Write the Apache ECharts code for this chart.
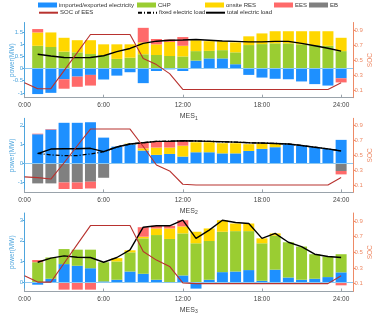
<!DOCTYPE html>
<html><head><meta charset="utf-8">
<script src="https://cdn.jsdelivr.net/npm/echarts@6/dist/echarts.min.js"></script>
<style>html,body{margin:0;padding:0;background:#fff}#c{width:374px;height:317px}</style>
</head><body><div id="c"></div>
<script>
const hours = [1,2,3,4,5,6,7,8,9,10,11,12,13,14,15,16,17,18,19,20,21,22,23,24];
const socHours = [0,1,2,3,4,5,6,7,8,9,10,11,12,13,14,15,16,17,18,19,20,21,22,23,24];
const xTicks = [0,6,12,18,24];
const socTicks = [0.1,0.3,0.5,0.7,0.9];
const panelNames = ['1','2','3'];
const powerTicks1 = [-1,-0.5,0,0.5,1,1.5];
const powerTicks2 = [-1,0,1,2];
const powerTicks3 = [0,1,2,3];

// MES1
const blue1 = [-1.05,-1.00,-0.44,-0.33,-0.26,-0.45,-0.29,-0.15,-0.60,-0.10,-0.03,-0.10,0.33,0.42,0.42,0.18,-0.26,-0.37,-0.42,-0.44,-0.53,-0.64,-0.70,-0.40];
const green1 = [0.94,0.89,0.70,0.67,0.60,0.56,0.40,0.45,0.59,0.56,0.52,0.50,0.39,0.31,0.34,0.49,0.97,1.01,1.04,1.04,1.00,0.97,0.94,0.72];
const gold1 = [0.55,0.60,0.57,0.50,0.57,0.44,0.60,0.55,0.49,0.44,0.58,0.44,0.45,0.40,0.37,0.41,0.36,0.44,0.50,0.50,0.54,0.57,0.60,0.55];
const ees1 = [0.14,0,-0.39,-0.42,-0.44,0,0,0,0.60,0.22,0.10,0.36,0,0,0,0,0,0,0,0,0,0,0,-0.17];
const eb1 = [0,0,0,0,0,0,0,0,0,0,0,0,0,0,0,0,0,0,0,0,0,0,0,0];
const total1 = [0.59,0.52,0.46,0.45,0.46,0.53,0.70,0.83,1.04,1.13,1.17,1.18,1.20,1.17,1.14,1.12,1.10,1.10,1.12,1.12,1.04,0.94,0.84,0.72];
const soc1 = [0.20,0.12,0.12,0.36,0.60,0.84,0.84,0.84,0.84,0.52,0.44,0.32,0.11,0.11,0.11,0.11,0.11,0.11,0.11,0.11,0.11,0.11,0.11,0.11,0.20];

// MES2
const blue2 = [1.55,1.80,2.16,2.16,2.19,1.37,0.89,1.02,0.68,0.45,0.50,0.36,0.59,0.59,0.53,0.53,0.66,0.77,0.86,1.02,0.94,0.86,0.77,1.25];
const green2 = [0,0,0,0,0,0,0,0,0,0,0,0,0,0,0,0,0,0,0,0,0,0,0,0];
const gold2 = [0,0,0,0,0,0,0,0.03,0.12,0.39,0.34,0.58,0.53,0.53,0.54,0.54,0.36,0.30,0.21,0,0,0,0,0];
const ees2 = [0.03,0.03,-0.35,-0.35,-0.36,0,0,0,0.29,0.32,0.32,0.25,0,0,0,0,0,0,0,0,0,0,0,-0.18];
const eb2 = [-1.07,-1.07,-1.02,-1.02,-0.98,-0.77,0,0,0,0,0,0,0,0,0,0,0,0,0,0,0,0,0,-0.41];
const total2 = [0.52,0.76,0.78,0.78,0.80,0.62,0.87,1.03,1.10,1.17,1.18,1.20,1.19,1.17,1.15,1.13,1.10,1.08,1.06,1.03,0.95,0.86,0.77,0.66];
const fixed2 = [0.53,0.45,0.41,0.41,0.50,0.62,0.87,1.03,1.10,1.17,1.18,1.20,1.19,1.17,1.15,1.13,1.10,1.08,1.06,1.03,0.95,0.86,0.77,0.66];
const soc2 = [0.21,0.20,0.18,0.40,0.63,0.855,0.855,0.855,0.855,0.62,0.37,0.29,0.11,0.10,0.10,0.10,0.10,0.10,0.10,0.10,0.10,0.10,0.10,0.10,0.20];

// MES3
const blue3 = [-0.13,0.16,0.87,0.79,0.67,0.03,0.11,0.51,0.40,0.11,0.00,0.32,-0.32,0.11,0.48,0.51,0.58,0.06,0.60,0.22,0.11,0.16,0.24,0.47];
const green3 = [0.96,1.03,0.73,0.78,0.90,0.93,0.89,0.93,1.72,2.17,2.09,2.04,1.88,1.88,1.96,1.96,1.89,1.82,1.65,1.71,1.61,1.19,1.00,0.88];
const gold3 = [0,0,0,0,0,0,0.16,0.10,0.08,0.32,0.51,0.34,0.56,0.61,0.56,0.37,0.37,0.24,0.11,0,0,0,0,0];
const ees3 = [0.11,0,-0.37,-0.37,-0.37,0,0,0,0.46,0.13,0.13,0.30,0,0,0,0,0,0,0,0,0,0,0,-0.16];
const eb3 = [0,0,0,0,0,0,0,0,0,0,0,0,0,0,0,0,0,0,0,0,0,0,0,0];
const total3 = [0.96,1.16,1.27,1.20,1.19,0.96,1.19,1.56,2.66,2.73,2.73,3.00,2.12,2.52,3.00,2.89,2.84,2.12,2.36,1.93,1.72,1.35,1.24,1.19];
const soc3 = [0.20,0.12,0.12,0.36,0.60,0.84,0.84,0.84,0.84,0.51,0.40,0.32,0.11,0.10,0.10,0.10,0.10,0.10,0.10,0.10,0.10,0.10,0.10,0.10,0.20];

const C = {blue:'#1E90FF', green:'#9ACD32', gold:'#FFD700', ees:'#FF6A6A', eb:'#808080', soc:'#B8322F', left:'#4EA5DD', right:'#EE8A66', axis:'#9aa3ab', text:'#444'};
const FONT = 'Liberation Sans';

const panels = [
  {top:22.5, height:75.2, min:-1.2, max:1.9, ticks:powerTicks1, blue:blue1, green:green1, gold:gold1, ees:ees1, eb:eb1, total:total1, fixed:null, soc:soc1},
  {top:118.3, height:74.1, min:-1.55, max:2.4, ticks:powerTicks2, blue:blue2, green:green2, gold:gold2, ees:ees2, eb:eb2, total:total2, fixed:fixed2, soc:soc2},
  {top:213, height:78.5, min:-0.46, max:3.35, ticks:powerTicks3, blue:blue3, green:green3, gold:gold3, ees:ees3, eb:eb3, total:total3, fixed:null, soc:soc3}
];

const grid = [], xAxis = [], yAxis = [], series = [];
const pair = (xs, vs) => xs.map((x, i) => [x, vs[i]]);
// bars: value first so that the stacked dimension is the y value
const barPair = (xs, vs) => xs.map((x, i) => [vs[i], x]);
panels.forEach((p, k) => {
  grid.push({left:24.5, width:328.5, top:p.top, height:p.height, containLabel:false, outerBoundsMode:'none'});
  xAxis.push({type:'value', gridIndex:k, min:0, max:24.9,
    axisLine:{show:true, onZero:false, lineStyle:{color:C.axis, width:1}},
    axisTick:{show:true, inside:true, length:3, customValues:xTicks, lineStyle:{color:C.axis}},
    axisLabel:{customValues:xTicks, formatter:v => v + ':00', fontSize:6.5, color:C.text, fontFamily:FONT, margin:4},
    splitLine:{show:false},
    name:'MES{s|' + panelNames[k] + '}', nameLocation:'middle', nameGap:14, nameMoveOverlap:false,
    nameTextStyle:{fontSize:7, color:C.text, fontFamily:FONT, rich:{s:{fontSize:5, verticalAlign:'bottom', padding:[4,0,0,0], color:C.text, fontFamily:FONT}}}
  });
  yAxis.push({type:'value', gridIndex:k, position:'left', min:p.min, max:p.max,
    axisLine:{show:true, onZero:false, lineStyle:{color:C.left}},
    axisTick:{show:true, length:2, customValues:p.ticks, lineStyle:{color:C.left}},
    axisLabel:{customValues:p.ticks, fontSize:6, color:C.left, fontFamily:FONT, margin:1.5},
    splitLine:{show:false},
    name:'power(MW)', nameLocation:'middle', nameGap:8.5, nameRotate:90, nameMoveOverlap:false,
    nameTextStyle:{fontSize:6.5, color:C.left, fontFamily:FONT}
  });
  yAxis.push({type:'value', gridIndex:k, position:'right', min:0, max:1,
    axisLine:{show:true, onZero:false, lineStyle:{color:C.right}},
    axisTick:{show:true, length:2.5, customValues:socTicks, lineStyle:{color:C.right}},
    axisLabel:{customValues:socTicks, fontSize:6, color:C.right, fontFamily:FONT, margin:1.5},
    splitLine:{show:false},
    name:'SOC', nameLocation:'middle', nameGap:13.5, nameRotate:90, nameMoveOverlap:false,
    nameTextStyle:{fontSize:6.5, color:C.right, fontFamily:FONT}
  });
  const st = 'stack' + k;
  const barBase = {type:'bar', xAxisIndex:k, yAxisIndex:2*k, stack:st, barWidth:11, animation:false, encode:{x:1, y:0}};
  series.push(Object.assign({}, barBase, {name:'imported/exported electricity', data:barPair(hours, p.blue), itemStyle:{color:C.blue},
    markLine:{silent:true, symbol:'none', label:{show:false}, lineStyle:{color:'#8cc8f0', width:1, type:'solid'}, data:[{yAxis:0}], z:5}}));
  series.push(Object.assign({}, barBase, {name:'CHP', data:barPair(hours, p.green), itemStyle:{color:C.green}}));
  series.push(Object.assign({}, barBase, {name:'onsite RES', data:barPair(hours, p.gold), itemStyle:{color:C.gold}}));
  series.push(Object.assign({}, barBase, {name:'EB', data:barPair(hours, p.eb), itemStyle:{color:C.eb}}));
  series.push(Object.assign({}, barBase, {name:'EES', data:barPair(hours, p.ees), itemStyle:{color:C.ees}}));
  if (p.fixed) {
    series.push({type:'line', name:'fixed electric load', xAxisIndex:k, yAxisIndex:2*k, data:pair(hours, p.fixed), symbol:'none', z:6, animation:false,
      lineStyle:{color:'#000', width:1.3, type:[4,2,1,2]}});
  }
  series.push({type:'line', name:'total electric load', xAxisIndex:k, yAxisIndex:2*k, data:pair(hours, p.total), symbol:'none', z:7, animation:false,
    lineStyle:{color:'#000', width:1.4}});
  series.push({type:'line', name:'SOC of EES', xAxisIndex:k, yAxisIndex:2*k+1, data:pair(socHours, p.soc), symbol:'none', z:8, animation:false,
    lineStyle:{color:C.soc, width:1.1}});
});

const legItem = (name, left, top, isLine) => {
  const o = {data:[isLine ? {name:name} : {name:name, icon:'rect'}], left:left, top:top, padding:0, itemWidth:19, itemHeight:5, itemGap:0,
    textStyle:{fontSize:6, color:'#333', fontFamily:FONT, lineHeight:7, padding:[0,0,0,-3]}, selectedMode:false};
  if (isLine) o.itemStyle = {opacity:0};
  return o;
};
const legend = [
  legItem('imported/exported electricity', 38, 1.5),
  legItem('CHP', 137, 1.5),
  legItem('onsite RES', 205, 1.5),
  legItem('EES', 274, 1.5),
  legItem('EB', 309, 1.5),
  legItem('SOC of EES', 38, 9.2, true),
  legItem('fixed electric load', 137, 9.2, true),
  legItem('total electric load', 205, 9.2, true)
];

const chart = echarts.init(document.getElementById('c'), null, {renderer:'canvas'});
chart.setOption({animation:false, backgroundColor:'#fff', grid, xAxis, yAxis, series, legend});
</script></body></html>
